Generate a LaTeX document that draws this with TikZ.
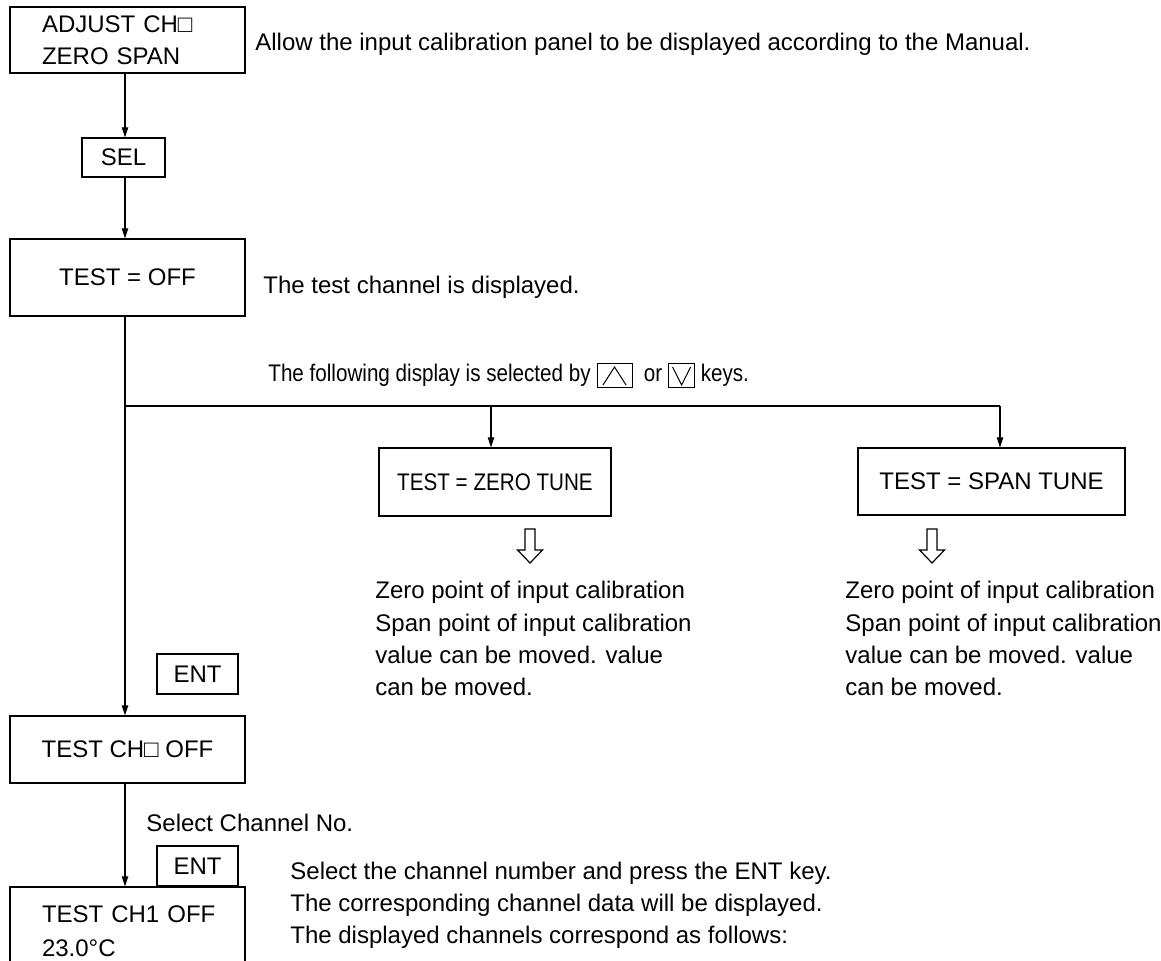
\documentclass[tikz,border=0pt]{standalone}
\usepackage{fontspec}
\setmainfont{Liberation Sans}
\newfontfamily\narrowfont[FakeStretch=0.86]{Liberation Sans}
\usetikzlibrary{arrows.meta}

\tikzset{
  panel/.style={draw, line width=0.6pt, inner sep=0pt},
  note/.style={anchor=base west, inner sep=0pt, align=left},
  flow/.style={line width=0.6pt, -{Triangle[length=5pt,width=3.2pt]}},
}
\newcommand\upkey{\tikz[baseline=3pt,line width=0.5pt]{\draw (0,0) rectangle (17.5pt,12pt);
  \draw (3pt,1.5pt) -- (8.75pt,10.5pt) -- (14.5pt,1.5pt);}}
\newcommand\downkey{\tikz[baseline=3pt,line width=0.5pt]{\draw (0,0) rectangle (13pt,12pt);
  \draw (2pt,10.5pt) -- (6.5pt,1.5pt) -- (11pt,10.5pt);}}

\begin{document}
\begin{tikzpicture}[x=0.5pt,y=-0.5pt,font=\fontsize{12}{16}\selectfont]
\clip (0,0) rectangle (1161,961);

\node[panel, minimum width=117.5pt, minimum height=33pt, text width=85.5pt, align=left] (adj)
  at (127.5,40) {\mbox{ADJUST CH□}\\ZERO SPAN};
\node[panel, minimum width=41.5pt, minimum height=19.5pt] (sel) at (123.5,157.5) {SEL};
\node[panel, minimum width=117.5pt, minimum height=38.5pt] (off) at (127.5,277.5) {TEST = OFF};
\node[panel, minimum width=116pt, minimum height=34pt, font=\narrowfont\fontsize{12}{16}\selectfont]
  (zero) at (495,482) {TEST = ZERO TUNE};
\node[panel, minimum width=133.5pt, minimum height=33.5pt] (span) at (991.5,481.5) {TEST = SPAN TUNE};
\node[panel, minimum width=40.5pt, minimum height=20pt] (ent1) at (197.5,674) {ENT};
\node[panel, minimum width=117.5pt, minimum height=33.5pt] (chx) at (127.5,749.5) {TEST CH□ OFF};
\node[panel, minimum width=40.5pt, minimum height=20pt] (ent2) at (197.5,866) {ENT};
\node[panel, minimum width=117.5pt, minimum height=44pt, text width=85.5pt,
  font=\fontsize{12}{17}\selectfont, align=left] (ch1) at (127.5,931) {\mbox{TEST CH1 OFF}\\23.0°C};

\node[note] (allow) at (255,51) {Allow the input calibration panel to be displayed according to the Manual.};
\node[note] (shown) at (263,294) {The test channel is displayed.};
\node[note, font=\narrowfont\fontsize{12}{16}\selectfont] (keys) at (268,382)
  {The following display is selected by \upkey\ \ or \downkey\ keys.};
\node[note] (zeronote) at (375,695) {Zero point of input calibration\\Span point of input calibration\\value can be moved. value\\can be moved.};
\node[note] (spannote) at (845,695) {Zero point of input calibration\\Span point of input calibration\\value can be moved. value\\can be moved.};
\node[note] (chno) at (146,831) {Select Channel No.};
\node[note] (press) at (290,943) {Select the channel number and press the ENT key.\\The corresponding channel data will be displayed.\\The displayed channels correspond as follows:};

\coordinate (spine) at (125,0);
\draw[flow] (adj.south -| spine) -- (sel.north -| spine);
\draw[flow] (sel.south -| spine) -- (off.north -| spine);
\draw[flow] (off.south -| spine) -- (chx.north -| spine);
\draw[flow] (chx.south -| spine) -- (ch1.north -| spine);

\coordinate (fork) at (125,406);
\coordinate (zdrop) at (491,406);
\coordinate (sdrop) at (1000,406);
\draw[line width=0.6pt] (fork) -- (sdrop);
\draw[flow] (zdrop) -- (zdrop |- zero.north);
\draw[flow] (sdrop) -- (sdrop |- span.north);

\foreach \cx in {530,932}
  \draw[line width=0.6pt] (\cx-5,529) -- (\cx+5,529) -- (\cx+5,550) -- (\cx+12.5,550)
    -- (\cx,563) -- (\cx-12.5,550) -- (\cx-5,550) -- cycle;
\end{tikzpicture}
\end{document}
